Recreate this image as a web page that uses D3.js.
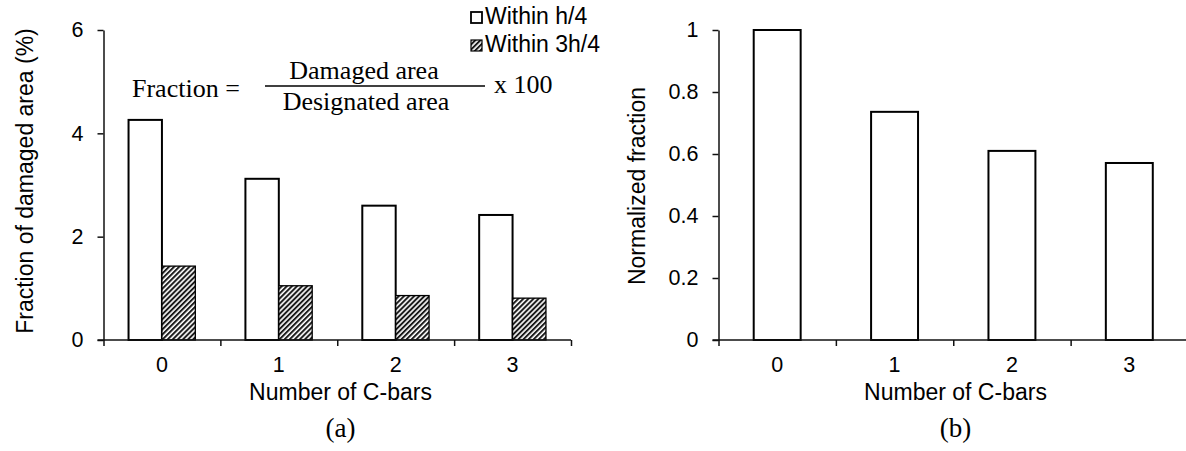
<!DOCTYPE html>
<html>
<head>
<meta charset="utf-8">
<script src="https://cdn.jsdelivr.net/npm/d3@7"></script>
<style>
  html, body { margin: 0; padding: 0; background: #fff; }
  svg { display: block; }
  .sans { font-family: "Liberation Sans", Arial, sans-serif; fill: #000; }
  .serif { font-family: "Liberation Serif", "Times New Roman", serif; fill: #000; }
</style>
</head>
<body>
<svg id="chart" width="1186" height="451"></svg>
<script>
// ---------------- DATA ----------------
const categories = ["0", "1", "2", "3"];
const seriesNames = ["Within h/4", "Within 3h/4"];
const withinH4 = [4.26, 3.12, 2.60, 2.42];
const within3H4 = [1.43, 1.05, 0.86, 0.81];
const normalized = [1.0, 0.736, 0.61, 0.571];
const leftTicks = [0, 2, 4, 6];
const rightTicks = [0, 0.2, 0.4, 0.6, 0.8, 1];

// ---------------- SETUP ----------------
const svg = d3.select("#chart");
const defs = svg.append("defs");
const pat = defs.append("pattern")
  .attr("id", "hatch").attr("patternUnits", "userSpaceOnUse")
  .attr("width", 3.6).attr("height", 3.6)
  .attr("patternTransform", "rotate(45)");
pat.append("rect").attr("width", 3.6).attr("height", 3.6).attr("fill", "#fff");
pat.append("rect").attr("x", 0).attr("width", 2).attr("height", 3.6).attr("fill", "#1a1a1a");

const plotTop = 30, plotBottom = 340;
const axisColor = "#111";

function drawPanel(opts) {
  const g = svg.append("g");
  const x = d3.scaleBand().domain(categories).range([opts.x0, opts.x1]).padding(0);
  const y = d3.scaleLinear().domain(opts.yDomain).range([plotBottom, plotTop]);

  // bars
  opts.drawBars(g, x, y);

  // y axis
  const yAxis = g.append("g").attr("transform", `translate(${opts.x0},0)`)
    .call(d3.axisLeft(y).tickValues(opts.ticks).tickSize(6).tickSizeOuter(0).tickPadding(14)
      .tickFormat(opts.fmt));
  yAxis.attr("font-family", null).attr("font-size", null);
  yAxis.select(".domain").attr("stroke", axisColor).attr("stroke-width", 1.5);
  yAxis.selectAll(".tick line").attr("stroke", axisColor).attr("stroke-width", 1.5);
  yAxis.selectAll(".tick text").attr("class", "sans").style("font-size", "21.5px");

  // x axis: boundary ticks
  const xb = d3.scaleLinear().domain([0, categories.length]).range([opts.x0, opts.x1]);
  const xTicks = g.append("g").attr("transform", `translate(0,${plotBottom})`)
    .call(d3.axisBottom(xb).ticks(categories.length).tickSize(6).tickSizeOuter(0).tickFormat(""));
  xTicks.select(".domain").remove();
  xTicks.selectAll(".tick line").attr("stroke", axisColor).attr("stroke-width", 1.5);
  g.append("line").attr("x1", opts.x0 - 6).attr("x2", opts.x1).attr("y1", plotBottom).attr("y2", plotBottom)
    .attr("stroke", axisColor).attr("stroke-width", 1.5);

  // category labels
  const xl = g.append("g").attr("transform", `translate(0,${plotBottom})`)
    .call(d3.axisBottom(x).tickSize(0).tickPadding(17));
  xl.attr("font-family", null).attr("font-size", null);
  xl.select(".domain").remove();
  xl.selectAll(".tick text").attr("class", "sans").style("font-size", "21.5px");

  // axis titles
  g.append("text").attr("class", "sans").attr("x", opts.xTitleX).attr("y", 400)
    .attr("text-anchor", "middle").style("font-size", "23px").text("Number of C-bars");
  g.append("text").attr("class", "sans")
    .attr("transform", `translate(${opts.yTitleX},${opts.yTitleY}) rotate(-90)`)
    .attr("text-anchor", "middle").style("font-size", "23px").text(opts.yTitle);
  g.append("text").attr("class", "serif").attr("x", opts.xTitleX).attr("y", 437)
    .attr("text-anchor", "middle").style("font-size", "27px").text(opts.panel);
  return {x, y, g};
}

// ---------------- PANEL (a) ----------------
drawPanel({
  x0: 103.5, x1: 571, yDomain: [0, 6], ticks: leftTicks, fmt: d3.format("d"),
  xTitleX: 340.5, yTitleX: 33, yTitleY: 181, yTitle: "Fraction of damaged area (%)", panel: "(a)",
  drawBars: (g, x, y) => {
    const x1 = d3.scaleBand().domain(seriesNames).range([0, x.bandwidth()]).paddingInner(0).paddingOuter(0.75);
    const rows = categories.map((c, i) => ({c, vals: [withinH4[i], within3H4[i]]}));
    const grp = g.selectAll("g.cat").data(rows).join("g").attr("class", "cat")
      .attr("transform", d => `translate(${x(d.c)},0)`);
    grp.selectAll("rect").data(d => d.vals.map((v, j) => ({s: seriesNames[j], v, j}))).join("rect")
      .attr("x", d => x1(d.s)).attr("width", x1.bandwidth())
      .attr("y", d => y(d.v)).attr("height", d => y(0) - y(d.v))
      .attr("fill", d => d.j === 0 ? "#fff" : "url(#hatch)")
      .attr("stroke", "#000").attr("stroke-width", d => d.j === 0 ? 2 : 1.3);
  }
});

// ---------------- PANEL (b) ----------------
drawPanel({
  x0: 718.5, x1: 1188, yDomain: [0, 1], ticks: rightTicks,
  fmt: d => (d === 0 || d === 1) ? d3.format("d")(d) : d3.format(".1f")(d),
  xTitleX: 955.5, yTitleX: 645, yTitleY: 186, yTitle: "Normalized fraction", panel: "(b)",
  drawBars: (g, x, y) => {
    const x1 = d3.scaleBand().domain(["v"]).range([0, x.bandwidth()]).paddingOuter(0.75);
    g.selectAll("rect.nb").data(categories.map((c, i) => ({c, v: normalized[i]}))).join("rect")
      .attr("class", "nb")
      .attr("x", d => x(d.c) + x1("v")).attr("width", x1.bandwidth())
      .attr("y", d => y(d.v)).attr("height", d => y(0) - y(d.v))
      .attr("fill", "#fff").attr("stroke", "#000").attr("stroke-width", 2);
  }
});

// ---------------- LEGEND ----------------
const leg = svg.append("g");
seriesNames.forEach((s, i) => {
  const yy = 12 + i * 28;
  leg.append("rect").attr("x", 471).attr("y", yy).attr("width", 11).attr("height", 11)
    .attr("fill", i === 0 ? "#fff" : "url(#hatch)").attr("stroke", "#000").attr("stroke-width", i === 0 ? 1.8 : 1.2);
  leg.append("text").attr("class", "sans").attr("x", 485).attr("y", yy + 11.5)
    .style("font-size", "23px").text(s);
});

// ---------------- FORMULA ----------------
const f = svg.append("g");
f.append("text").attr("class", "serif").attr("x", 132).attr("y", 97).style("font-size", "26px").text("Fraction =");
f.append("text").attr("class", "serif").attr("x", 364).attr("y", 78.5).attr("text-anchor", "middle")
  .style("font-size", "26px").text("Damaged area");
f.append("line").attr("x1", 265).attr("x2", 485).attr("y1", 86).attr("y2", 86)
  .attr("stroke", "#000").attr("stroke-width", 1.5);
f.append("text").attr("class", "serif").attr("x", 366).attr("y", 110).attr("text-anchor", "middle")
  .style("font-size", "26px").text("Designated area");
f.append("text").attr("class", "serif").attr("x", 494).attr("y", 93).style("font-size", "26px").text("x 100");
</script>
</body>
</html>
